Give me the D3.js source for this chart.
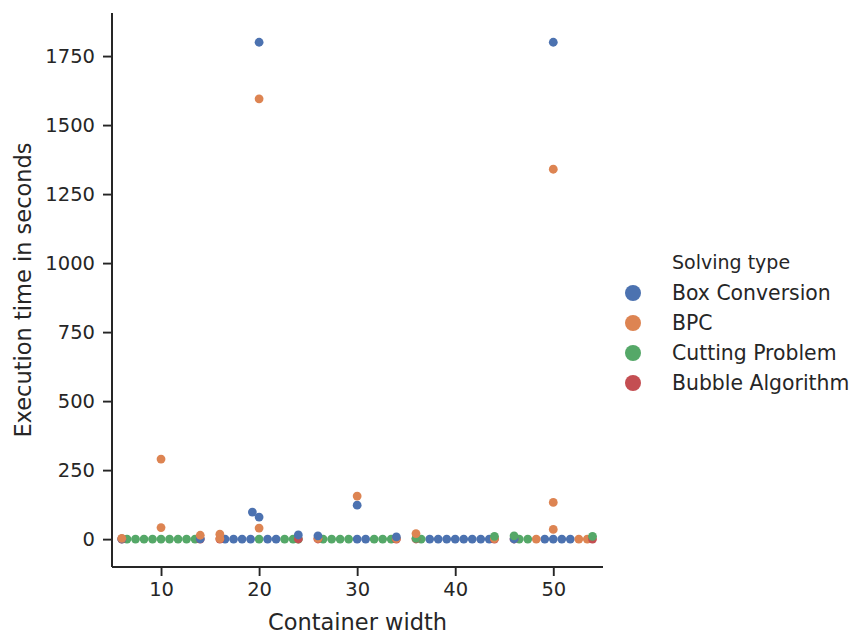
<!DOCTYPE html>
<html>
<head>
<meta charset="utf-8">
<script src="https://cdn.jsdelivr.net/npm/d3@7"></script>
<style>
    body { margin: 0; background: #fff; }
    text { font-family: "DejaVu Sans", sans-serif; fill: #262626; }
</style>
</head>
<body>
<div class="chart"></div>
<script>
// container widths and solvers
const widths = [10, 20, 30, 40, 50];
const solvers = ["Box Conversion", "BPC", "Cutting Problem", "Bubble Algorithm"];
const palette = ["#4c72b0", "#dd8452", "#55a868", "#c44e52"];

// execution times (s), one list per container width
const boxConversion = [
    [0.5, 1.0],
    [0.02, 0.03, 0.04, 0.05, 0.06, 0.08, 15, 80, 98, 1800],
    [0.01, 0.03, 8, 12, 123],
    [0.01, 0.02, 0.03, 0.04, 0.05, 0.06, 0.07, 0.08],
    [0.01, 0.02, 0.03, 0.04, 0.5, 1800]
];
const bpc = [
    [3, 14, 42, 290],
    [2, 18, 40, 1595],
    [2, 3, 156],
    [2, 20],
    [0.05, 0.07, 0.08, 35, 133, 1340]
];
const cuttingProblem = [
    [0.01, 0.02, 0.03, 0.04, 0.05, 0.06, 0.07, 0.08, 0.09],
    [0.01, 0.07, 0.09, 0.3],
    [0.02, 0.04, 0.05, 0.06, 0.07, 0.08, 0.09],
    [0.09, 3, 10],
    [0.06, 0.09, 10, 12]
];
const bubbleAlgorithm = [
    [0.2, 0.3],
    [0.2, 0.4],
    [0.2, 0.4],
    [0.2, 0.4],
    [0.2, 0.4]
];

const xTicks = [10, 20, 30, 40, 50];
const yTicks = [0, 250, 500, 750, 1000, 1250, 1500, 1750];

const W = 852, H = 635;
const margin = { left: 112, right: 249, top: 13, bottom: 68 };
const r = 4.05;       // swarm collision radius
const dotR = 4.4;

const series = [boxConversion, bpc, cuttingProblem, bubbleAlgorithm];
const dataset = [];
series.forEach((s, si) => {
    s.forEach((vals, wi) => {
        vals.forEach((v) => dataset.push({ solver: solvers[si], width: widths[wi], value: v }));
    });
});

const svg = d3.select(".chart").append("svg")
    .attr("width", W)
    .attr("height", H);

const x = d3.scaleLinear().domain([5, 55.07]).range([margin.left, W - margin.right]);
const y = d3.scaleLinear().domain([-101, 1906]).range([H - margin.bottom, margin.top]);
const color = d3.scaleOrdinal().domain(solvers).range(palette);

// swarm placement like seaborn: sorted by value, nearest free spot, then clipped to the band
function swarm(points, cx, half) {
    const pts = points.map((d) => ({ d, x: cx, y: y(d.value) }));
    pts.sort((a, b) => b.y - a.y);
    const placed = [];
    pts.forEach((p, i) => {
        if (i === 0) { placed.push(p); return; }
        const neighbors = [];
        for (let j = placed.length - 1; j >= 0; j--) {
            if (placed[j].y - p.y < 2 * r) neighbors.push(placed[j]);
            else break;
        }
        const cands = [cx];
        let leftFirst = true;
        neighbors.forEach((n) => {
            const dy = p.y - n.y;
            const dx = Math.sqrt(Math.max(4 * r * r - dy * dy, 0)) * 1.05;
            if (leftFirst) cands.push(n.x - dx, n.x + dx);
            else cands.push(n.x + dx, n.x - dx);
            leftFirst = !leftFirst;
        });
        const order = cands.map((c, k) => ({ c, k }))
            .sort((a, b) => Math.abs(a.c - cx) - Math.abs(b.c - cx) || a.k - b.k);
        for (const o of order) {
            const ok = neighbors.every((n) => Math.hypot(o.c - n.x, p.y - n.y) >= 2 * r - 1e-6);
            if (ok) { p.x = o.c; break; }
        }
        placed.push(p);
    });
    placed.forEach((p) => { p.x = Math.max(cx - half, Math.min(cx + half, p.x)); });
    return placed;
}

const half = x(4) - x(0);
let placedAll = [];
widths.forEach((w) => {
    placedAll = placedAll.concat(swarm(dataset.filter((d) => d.width === w), x(w), half));
});
placedAll.sort((a, b) => a.d.value - b.d.value);

svg.append("g")
    .selectAll("circle")
    .data(placedAll)
    .join("circle")
    .attr("cx", (p) => p.x)
    .attr("cy", (p) => p.y)
    .attr("r", dotR)
    .attr("fill", (p) => color(p.d.solver));

// axes
const xAxis = d3.axisBottom(x).tickValues(xTicks).tickFormat(d3.format("d")).tickSize(9).tickPadding(6);
const yAxis = d3.axisLeft(y).tickValues(yTicks).tickFormat(d3.format("d")).tickSize(9).tickPadding(8);

const gx = svg.append("g")
    .attr("transform", `translate(0,${H - margin.bottom})`)
    .call(xAxis);
const gy = svg.append("g")
    .attr("transform", `translate(${margin.left},0)`)
    .call(yAxis);

[gx, gy].forEach((g) => {
    g.select(".domain").remove();
    g.selectAll(".tick line").attr("stroke", "#262626").attr("stroke-width", 1.9);
    g.selectAll(".tick text").attr("font-size", 19.5).attr("fill", "#262626");
});

// spines
svg.append("line")
    .attr("x1", margin.left).attr("x2", margin.left)
    .attr("y1", margin.top).attr("y2", H - margin.bottom)
    .attr("stroke", "#262626").attr("stroke-width", 2);
svg.append("line")
    .attr("x1", margin.left).attr("x2", W - margin.right)
    .attr("y1", H - margin.bottom).attr("y2", H - margin.bottom)
    .attr("stroke", "#262626").attr("stroke-width", 2);

svg.append("text")
    .attr("x", (margin.left + W - margin.right) / 2)
    .attr("y", 630)
    .attr("text-anchor", "middle")
    .attr("font-size", 22.5)
    .text("Container width");

svg.append("text")
    .attr("transform", `translate(31,${(margin.top + H - margin.bottom) / 2}) rotate(-90)`)
    .attr("text-anchor", "middle")
    .attr("font-size", 22.5)
    .text("Execution time in seconds");

// legend
const legend = svg.append("g").attr("transform", "translate(672,0)");
legend.append("text")
    .attr("x", 0).attr("y", 269)
    .attr("font-size", 19)
    .text("Solving type");
const items = legend.selectAll(".item")
    .data(solvers)
    .join("g")
    .attr("class", "item")
    .attr("transform", (d, i) => `translate(0,${293 + i * 30})`);
items.append("circle")
    .attr("cx", -39).attr("cy", 0).attr("r", 8)
    .attr("fill", (d) => color(d));
items.append("text")
    .attr("x", 0).attr("y", 7)
    .attr("font-size", 20.4)
    .text((d) => d);
</script>
</body>
</html>
